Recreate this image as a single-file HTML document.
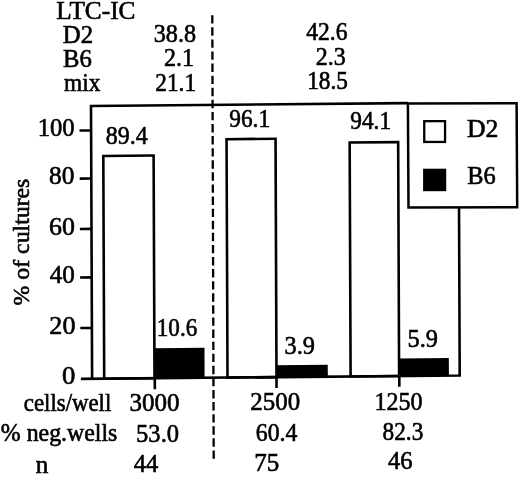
<!DOCTYPE html>
<html><head><meta charset="utf-8"><style>
html,body{margin:0;padding:0;background:#fff;}
svg{display:block;will-change:transform;}
text{font-family:"Liberation Serif",serif;fill:#000;stroke:#000;stroke-width:0.6px;}
</style></head><body>
<svg width="520" height="477" viewBox="0 0 520 477" font-family="Liberation Serif" font-size="24.5">
<rect width="520" height="477" fill="#fff"/>
<g transform="matrix(1,-0.009,0.004,1,-1.5156,0.8271)" stroke="#000" stroke-width="2.6" fill="none" stroke-linecap="butt">
<rect x="104.2" y="156.1" width="50.30" height="222.70" fill="#fff"/>
<rect x="154.5" y="348.7" width="50.10" height="30.10" fill="#000" stroke="none"/>
<rect x="227.5" y="140.4" width="49.00" height="238.40" fill="#fff"/>
<rect x="276.5" y="366.9" width="51.30" height="11.90" fill="#000" stroke="none"/>
<rect x="350.6" y="144.9" width="48.50" height="233.90" fill="#fff"/>
<rect x="399.1" y="361.2" width="49.80" height="17.60" fill="#000" stroke="none"/>
<path d="M409.1,105.95 L92.1,105.95 L92.1,380.1 M80.9,378.8 L459.7,378.8 L459.7,210.9"/>
<path d="M80.5,130.45 H92 M80.5,178.55 H92 M80.5,228.85 H92 M80.5,277.35 H92 M80.5,327.95 H92"/>
<path d="M154.8,378.8 V389.8 M276.5,378.8 V389.6 M399.3,378.8 V389.6"/>
</g>
<g stroke="#000" fill="#fff" stroke-width="2.5">
<path d="M407.9,103.4 L516.6,103.2 L517.2,207.2 L408.5,207.6 Z"/>
<rect x="424.25" y="121.15" width="20.8" height="20.8" stroke-width="2.3"/>
<rect x="423.1" y="168.7" width="23.1" height="22.5" fill="#000" stroke="none"/>
</g>
<line x1="212.3" y1="15.2" x2="213.7" y2="459.4" stroke="#000" stroke-width="2.3" stroke-dasharray="8.4 3.69"/>
<text x="56.27" y="19.00" textLength="79.17" lengthAdjust="spacingAndGlyphs">LTC-IC</text>
<text x="62.79" y="43.00" textLength="30.27" lengthAdjust="spacingAndGlyphs">D2</text>
<text x="62.99" y="66.75" textLength="28.81" lengthAdjust="spacingAndGlyphs">B6</text>
<text x="64.00" y="90.75" textLength="36.42" lengthAdjust="spacingAndGlyphs">mix</text>
<text x="153.81" y="42.20" textLength="42.25" lengthAdjust="spacingAndGlyphs">38.8</text>
<text x="163.92" y="66.30" textLength="29.97" lengthAdjust="spacingAndGlyphs">2.1</text>
<text x="155.30" y="90.50" textLength="40.73" lengthAdjust="spacingAndGlyphs">21.1</text>
<text x="306.25" y="40.40" textLength="41.23" lengthAdjust="spacingAndGlyphs">42.6</text>
<text x="315.82" y="65.40" textLength="29.99" lengthAdjust="spacingAndGlyphs">2.3</text>
<text x="307.20" y="89.20" textLength="40.73" lengthAdjust="spacingAndGlyphs">18.5</text>
<text x="37.69" y="135.90" textLength="36.97" lengthAdjust="spacingAndGlyphs">100</text>
<text x="49.07" y="183.70" textLength="25.35" lengthAdjust="spacingAndGlyphs">80</text>
<text x="49.04" y="234.80" textLength="25.88" lengthAdjust="spacingAndGlyphs">60</text>
<text x="49.80" y="282.90" textLength="25.11" lengthAdjust="spacingAndGlyphs">40</text>
<text x="49.33" y="334.00" textLength="26.10" lengthAdjust="spacingAndGlyphs">20</text>
<text x="62.11" y="383.70" textLength="13.36" lengthAdjust="spacingAndGlyphs">0</text>
<text x="105.82" y="143.60" textLength="41.85" lengthAdjust="spacingAndGlyphs">89.4</text>
<text x="229.30" y="126.70" textLength="40.73" lengthAdjust="spacingAndGlyphs">96.1</text>
<text x="350.30" y="129.30" textLength="40.73" lengthAdjust="spacingAndGlyphs">94.1</text>
<text x="156.82" y="336.30" textLength="40.37" lengthAdjust="spacingAndGlyphs">10.6</text>
<text x="284.61" y="354.20" textLength="30.41" lengthAdjust="spacingAndGlyphs">3.9</text>
<text x="407.51" y="346.80" textLength="30.41" lengthAdjust="spacingAndGlyphs">5.9</text>
<text x="466.95" y="136.60" textLength="31.45" lengthAdjust="spacingAndGlyphs">D2</text>
<text x="467.20" y="184.20" textLength="28.49" lengthAdjust="spacingAndGlyphs">B6</text>
<text x="23.87" y="410.70" textLength="87.36" lengthAdjust="spacingAndGlyphs">cells/well</text>
<text x="129.48" y="411.10" textLength="50.04" lengthAdjust="spacingAndGlyphs">3000</text>
<text x="250.38" y="410.20" textLength="49.83" lengthAdjust="spacingAndGlyphs">2500</text>
<text x="374.44" y="409.90" textLength="48.04" lengthAdjust="spacingAndGlyphs">1250</text>
<text x="0.83" y="440.80" textLength="116.50" lengthAdjust="spacingAndGlyphs">% neg.wells</text>
<text x="136.10" y="441.50" textLength="42.98" lengthAdjust="spacingAndGlyphs">53.0</text>
<text x="255.83" y="440.50" textLength="41.55" lengthAdjust="spacingAndGlyphs">60.4</text>
<text x="382.55" y="439.50" textLength="40.78" lengthAdjust="spacingAndGlyphs">82.3</text>
<text x="35.87" y="472.80" textLength="12.58" lengthAdjust="spacingAndGlyphs">n</text>
<text x="133.70" y="471.60" textLength="24.50" lengthAdjust="spacingAndGlyphs">44</text>
<text x="254.28" y="471.20" textLength="25.03" lengthAdjust="spacingAndGlyphs">75</text>
<text x="388.00" y="469.20" textLength="24.50" lengthAdjust="spacingAndGlyphs">46</text>
<text transform="translate(28.90,305.39) rotate(-90)" x="0" y="0" font-size="24" textLength="126.75" lengthAdjust="spacingAndGlyphs">% of cultures</text>
</svg>
</body></html>
